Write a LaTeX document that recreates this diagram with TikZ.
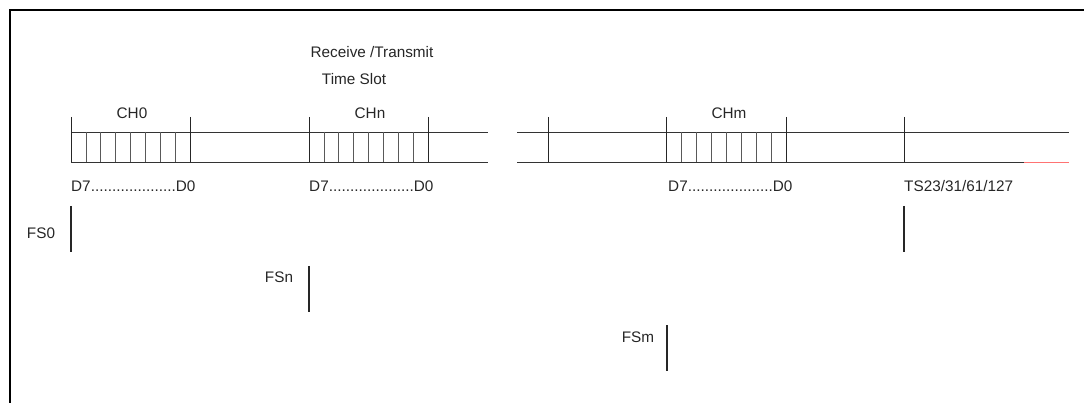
\documentclass[tikz,border=0pt]{standalone}
\usepackage{fontspec}
\setmainfont{Liberation Sans}
\begin{document}
\begin{tikzpicture}[x=1pt,y=-1pt,
  rail/.style={line width=0.9pt, draw=black!80},
  tickline/.style={line width=0.9pt, draw=black!85},
  cell/.style={line width=0.7pt, draw=black!65},
  fsbar/.style={line width=2pt, draw=black!85},
  lbl/.style={font=\fontsize{15.3}{18}\selectfont, text=black!85, inner sep=0pt},
  frameline/.style={line width=2.8pt, draw=black}]
\useasboundingbox (0,0) rectangle (1084,403);
% frame
\draw[frameline] (10,403) -- (10,10) -- (1084,10);
% rails
\draw[rail] (71,132) -- (488,132);
\draw[rail] (71,162) -- (488,162);
\draw[rail] (517,132) -- (1069,132);
\draw[rail] (517,162) -- (1024,162);
\draw[line width=0.9pt, draw=red!55] (1024,162) -- (1069,162);
% ticks
\foreach \x in {71,190,309,428,548,666,786,904}
  \draw[tickline] (\x,117) -- (\x,162);
% cells
\foreach \i in {1,...,7} {
  \draw[cell] ({71+\i*14.875},132) -- ({71+\i*14.875},162);
  \draw[cell] ({309+\i*14.875},132) -- ({309+\i*14.875},162);
  \draw[cell] ({666+\i*15},132) -- ({666+\i*15},162);
}
% labels
\node[lbl] (rt) at (372,52) {Receive /Transmit};
\node[lbl] (tslot) at (354,79) {Time Slot};
\node[lbl] (ch0) at (132,113) {CH0};
\node[lbl] (chn) at (370,113) {CHn};
\node[lbl] (chm) at (729,113) {CHm};
\node[lbl, anchor=west] (d0) at (71,186) {D7....................D0};
\node[lbl, anchor=west] (dn) at (309,186) {D7....................D0};
\node[lbl, anchor=west] (dm) at (668,186) {D7....................D0};
\node[lbl, anchor=west] (tsl) at (904,186) {TS23/31/61/127};
\node[lbl] (fs0) at (41,233) {FS0};
\node[lbl] (fsn) at (279,277) {FSn};
\node[lbl] (fsm) at (638,337) {FSm};
% frame sync bars
\coordinate (b0a) at (71,206); \coordinate (b0b) at (71,252);
\coordinate (bna) at (309,266); \coordinate (bnb) at (309,312);
\coordinate (bma) at (667,325); \coordinate (bmb) at (667,371);
\coordinate (bta) at (904,206); \coordinate (btb) at (904,252);
\draw[fsbar] (b0a) -- (b0b);
\draw[fsbar] (bna) -- (bnb);
\draw[fsbar] (bma) -- (bmb);
\draw[fsbar] (bta) -- (btb);
\end{tikzpicture}
\end{document}
